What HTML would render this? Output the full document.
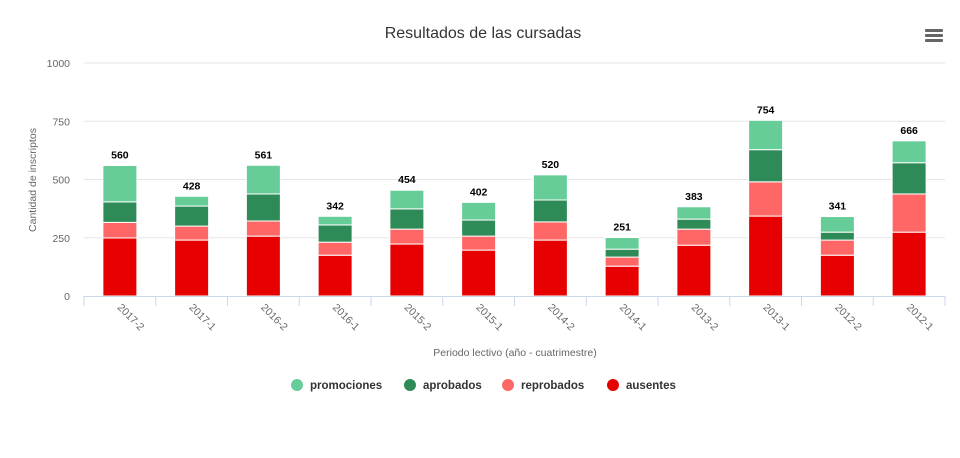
<!DOCTYPE html>
<html><head><meta charset="utf-8"><style>
body{margin:0;background:#fff;font-family:"Liberation Sans",sans-serif;}
svg{display:block}
</style></head><body>
<svg id="chart" width="960" height="458">
<text x="483" y="38" text-anchor="middle" font-size="16" fill="#333">Resultados de las cursadas</text>
<g fill="#666">
<rect x="925" y="29" width="18" height="3" rx="1"/><rect x="925" y="34" width="18" height="3" rx="1"/><rect x="925" y="39" width="18" height="3" rx="1"/>
</g>
<text transform="translate(36,180) rotate(-90)" text-anchor="middle" font-size="10.5" fill="#666">Cantidad de inscriptos</text>
<text x="515" y="356" text-anchor="middle" font-size="10.5" fill="#666">Periodo lectivo (año - cuatrimestre)</text>
<g id="grid"></g><g id="bars"></g><g id="xaxis"></g><g id="legend"></g>
</svg>
<script>
const categories=["2017-2","2017-1","2016-2","2016-1","2015-2","2015-1","2014-2","2014-1","2013-2","2013-1","2012-2","2012-1"];
const ausentes=[249,240,257,175,223,197,240,128,218,343,175,274];
const reprobados=[67,60,65,56,64,60,78,39,69,147,65,164];
const aprobados=[88,86,116,74,87,69,94,34,43,138,34,134];
const promociones=[156,42,123,37,80,76,108,50,53,126,67,94];
const yTicks=[0,250,500,750,1000];
const seriesNames=["ausentes","reprobados","aprobados","promociones"];
const seriesColors=["#e60000","#ff6666","#2e8b57","#66cd99"];
const NS="http://www.w3.org/2000/svg";
const x0=84,x1=945,yBase=296,yTop=63;
const y=v=>yBase-(v/1000)*(yBase-yTop);
const bw=(x1-x0)/categories.length;
const cx=i=>x0+bw*(i+0.5);
function mk(t,a,p){const e=document.createElementNS(NS,t);for(const k in a)e.setAttribute(k,a[k]);p.appendChild(e);return e;}
const grid=document.getElementById('grid');
yTicks.forEach(t=>{
 if(t>0){const l=mk('line',{x1:x0,x2:x1,y1:y(t),y2:y(t),stroke:'#e6e6e6'},grid);
 
 }
 const tx=mk('text',{x:70,y:y(t)+4,'text-anchor':'end','font-size':10.5,fill:'#666'},grid);
 tx.textContent=t;
 
 
});
const data=[ausentes,reprobados,aprobados,promociones];
const bars=document.getElementById('bars');
categories.forEach((c,i)=>{
 let acc=0;
 data.forEach((s,k)=>{
  const v=s[i];
  const r=mk('rect',{x:cx(i)-17,width:34,y:y(acc+v),height:y(acc)-y(acc+v),fill:seriesColors[k],stroke:'#fff','stroke-width':1},bars);
  
  
  acc+=v;
 });
 const t=mk('text',{x:cx(i),y:y(acc)-7,'text-anchor':'middle','font-size':10.5,'font-weight':'bold',fill:'#000'},bars);
 t.textContent=acc;
 
 
});
const xa=document.getElementById('xaxis');
const al=mk('line',{x1:x0,x2:x1,y1:yBase+0.5,y2:yBase+0.5,stroke:'#ccd6eb'},xa);


for(let i=0;i<=categories.length;i++){
 const tk=mk('line',{x1:x0+bw*i,x2:x0+bw*i,y1:yBase,y2:yBase+10,stroke:'#ccd6eb'},xa);
 
 
}
categories.forEach((c,i)=>{
 const t=mk('text',{x:0,y:0,'font-size':10.5,fill:'#666',transform:`translate(${cx(i)-3},${yBase+12}) rotate(45)`},xa);
 t.textContent=c;
 
 
});
const lg=document.getElementById('legend');
const legOrder=[3,2,1,0];
const legX=[297,410,508,613];
legOrder.forEach((k,j)=>{
 const g=mk('g',{},lg);
 
 
 mk('circle',{cx:legX[j],cy:385,r:6,fill:seriesColors[k]},g);
 const t=mk('text',{x:legX[j]+13,y:389,'font-size':11.5,'font-weight':'bold',fill:'#333'},g);
 t.textContent=seriesNames[k];
});
</script>
</body></html>
